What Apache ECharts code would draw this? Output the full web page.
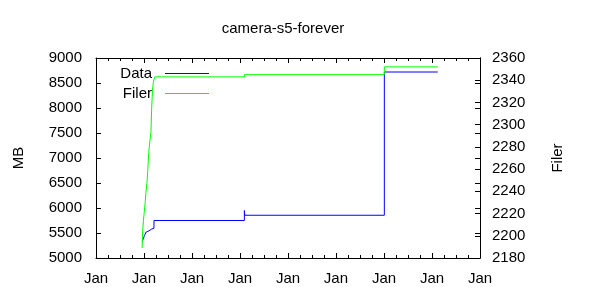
<!DOCTYPE html>
<html><head><meta charset="utf-8">
<script src="https://cdn.jsdelivr.net/npm/echarts@6/dist/echarts.min.js"></script>
<style>html,body{margin:0;padding:0;background:#fff}#c{width:600px;height:300px}</style>
</head><body><div id="c"></div>
<script>
const chartTitle = 'camera-s5-forever';
const xTickLabel = 'Jan';
const xRange = ['2007-01-01', '2015-01-01'];
const leftAxisName = 'MB';
const rightAxisName = 'Filer';
const seriesNames = ['Data', 'Filer'];

// Data series (MB, left axis)
const dataDates = ['2007-12-18','2007-12-26','2007-12-30','2008-01-05','2008-01-10','2008-01-18','2008-01-25','2008-02-05','2008-02-20','2008-03-01','2008-03-17','2010-02-03','2010-02-06','2013-01-03','2014-02-14'];
const dataMB    = [5330, 5380, 5420, 5450, 5480, 5520, 5540, 5560, 5580, 5595, 5750, 5950, 5855, 8720, 8720];

// Filer series (count, right axis)
const filerDates = ['2007-12-18','2007-12-22','2007-12-28','2008-01-03','2008-01-10','2008-01-16','2008-01-24','2008-01-30','2008-02-04','2008-02-10','2008-02-18','2008-02-23','2008-02-28','2008-03-06','2008-03-11','2008-03-18','2008-03-24','2010-02-03','2013-01-03','2014-02-14'];
const filerCount = [2189, 2204, 2214, 2221, 2230, 2239, 2248, 2259, 2270, 2280, 2288, 2293, 2313, 2331, 2337, 2341, 2343, 2345, 2352, 2352];

const leftRange = [5000, 9000, 500];
const rightRange = [2180, 2360, 20];

const FONT = "'Liberation Sans', Arial, sans-serif";
const FS = 15;
const chart = echarts.init(document.getElementById('c'), null, {renderer: 'canvas'});

const tickIn = {show: true, inside: true, length: 5, lineStyle: {color: '#000', width: 1}};
const minorIn = {show: true, splitNumber: 4, length: 3, lineStyle: {color: '#000', width: 1}};
const line = {show: true, onZero: false, lineStyle: {color: '#000', width: 1}};
const plain = v => String(v);

function xAxisCfg(pos, showLabels) {
  return {
    type: 'time', position: pos,
    min: xRange[0], max: xRange[1],
    minInterval: 365 * 86400000, maxInterval: 366 * 86400000,
    axisLine: line, axisTick: tickIn, minorTick: minorIn,
    splitLine: {show: false}, minorSplitLine: {show: false},
    axisLabel: {show: showLabels, formatter: () => xTickLabel, color: '#000', fontFamily: FONT, fontSize: FS, margin: 13, showMinLabel: true, showMaxLabel: true, hideOverlap: false}
  };
}

chart.setOption({
  animation: false,
  backgroundColor: '#fff',
  title: {text: chartTitle, left: 283, textAlign: 'center', top: 21, padding: 0,
    textStyle: {color: '#000', fontFamily: FONT, fontSize: FS, fontWeight: 'normal'}},
  legend: {
    orient: 'vertical', align: 'right', right: 391, top: 66, padding: 0,
    icon: 'rect', itemWidth: 44, itemHeight: 1, itemGap: 5,
    textStyle: {color: '#000', fontFamily: FONT, fontSize: FS, lineHeight: 15, padding: [0, 8, 0, 0]},
    data: seriesNames
  },
  grid: {left: 96, right: 120, top: 58, bottom: 42, containLabel: false, outerBoundsMode: 'none'},
  xAxis: [xAxisCfg('bottom', true), xAxisCfg('top', false)],
  yAxis: [
    {type: 'value', position: 'left', min: leftRange[0], max: leftRange[1], interval: leftRange[2],
      name: leftAxisName, nameLocation: 'middle', nameRotate: 90, nameGap: 70,
      nameTextStyle: {color: '#000', fontFamily: FONT, fontSize: FS},
      axisLine: line, axisTick: tickIn, splitLine: {show: false},
      axisLabel: {color: '#000', fontFamily: FONT, fontSize: FS, margin: 14, formatter: plain}},
    {type: 'value', position: 'right', min: rightRange[0], max: rightRange[1], interval: rightRange[2],
      name: rightAxisName, nameLocation: 'middle', nameRotate: 90, nameGap: 70,
      nameTextStyle: {color: '#000', fontFamily: FONT, fontSize: FS},
      axisLine: line, axisTick: tickIn, splitLine: {show: false},
      axisLabel: {color: '#000', fontFamily: FONT, fontSize: FS, margin: 12, formatter: plain}},
    {type: 'value', position: 'right', min: leftRange[0], max: leftRange[1], interval: leftRange[2],
      axisLine: line, axisTick: tickIn, splitLine: {show: false}, axisLabel: {show: false}}
  ],
  series: [
    {name: seriesNames[0], type: 'line', yAxisIndex: 0, step: 'end', symbol: 'none',
      color: '#0000ff', lineStyle: {color: '#0000ff', width: 1},
      data: dataDates.map((d, i) => [d, dataMB[i]])},
    {name: seriesNames[1], type: 'line', yAxisIndex: 1, step: 'end', symbol: 'none',
      color: '#00ff00', lineStyle: {color: '#00ff00', width: 1},
      data: filerDates.map((d, i) => [d, filerCount[i]])}
  ]
});
</script></body></html>
